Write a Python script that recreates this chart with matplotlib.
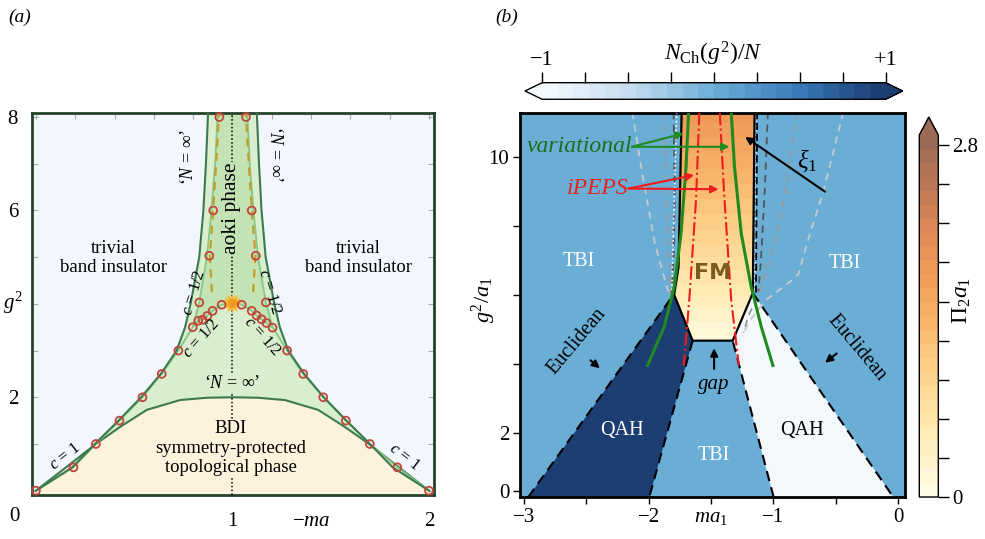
import numpy as np
import matplotlib as mpl
import matplotlib.pyplot as plt
from matplotlib.colors import LinearSegmentedColormap, Normalize
from matplotlib.patches import Polygon

plt.rcParams['font.family'] = ['Liberation Serif', 'DejaVu Serif']
plt.rcParams['mathtext.fontset'] = 'custom'
plt.rcParams['mathtext.rm'] = 'Liberation Serif'
plt.rcParams['mathtext.it'] = 'Liberation Serif:italic'
plt.rcParams['mathtext.bf'] = 'Liberation Serif:bold'
plt.rcParams['mathtext.fallback'] = 'stix'

# ---------------- panel (a) data ----------------
dome_x = [0.0, 0.15, 0.305, 0.43, 0.564, 0.733, 0.87, 1.0, 1.13, 1.267, 1.436, 1.57, 1.695, 1.85, 2.0]
dome_y = [0.0, 0.49, 1.0, 1.37, 1.73, 1.94, 1.99, 2.0, 1.99, 1.94, 1.73, 1.37, 1.0, 0.49, 0.0]

outer_y = [0.0, 0.5, 1.0, 1.5, 2.0, 2.5, 3.0, 3.5, 4.0, 5.0, 6.0, 7.0, 8.1]
outer_left = [0.0, 0.185, 0.30, 0.42, 0.535, 0.635, 0.716, 0.759, 0.787, 0.831, 0.852, 0.865, 0.876]
outer_right = [2.0, 1.815, 1.70, 1.58, 1.465, 1.365, 1.284, 1.241, 1.213, 1.169, 1.148, 1.135, 1.124]

inner_y = [0.0, 0.5, 1.0, 1.5, 2.0, 2.5, 3.0, 3.5, 4.03, 5.0, 6.0, 7.0, 8.1]
inner_left = [0.0, 0.191, 0.305, 0.425, 0.542, 0.640, 0.725, 0.798, 0.831, 0.87, 0.893, 0.912, 0.925]
inner_right = [2.0, 1.839, 1.699, 1.577, 1.462, 1.36, 1.278, 1.204, 1.170, 1.13, 1.107, 1.088, 1.075]

chain_x = [0.798, 0.826, 0.848, 0.872, 0.899, 0.945, 1.0, 1.047, 1.098, 1.123, 1.148, 1.173, 1.204]
chain_y = [3.5, 3.64, 3.66, 3.74, 3.85, 3.98, 4.02, 3.98, 3.85, 3.75, 3.67, 3.59, 3.49]

dash_y = [4.25, 5.03, 6.0, 8.1]
dash_left = [0.895, 0.885, 0.902, 0.933]
dash_right = [1.105, 1.117, 1.098, 1.067]

pts_x = [0.0, 0.191, 0.305, 0.425, 0.542, 0.640, 0.725, 0.798, 0.826, 0.848, 0.872, 0.899, 0.945,
         0.831, 0.882, 0.902, 0.933,
         2.0, 1.839, 1.699, 1.577, 1.462, 1.36, 1.278, 1.204, 1.173, 1.148, 1.123, 1.098, 1.047,
         1.170, 1.119, 1.098, 1.069]
pts_y = [0.0, 0.5, 1.0, 1.5, 2.0, 2.5, 3.0, 3.5, 3.64, 3.66, 3.74, 3.85, 3.98,
         4.03, 5.03, 6.0, 8.0,
         0.0, 0.5, 1.0, 1.5, 2.0, 2.5, 3.0, 3.49, 3.59, 3.67, 3.75, 3.85, 3.98,
         4.03, 5.03, 6.0, 8.0]
crit_pt = (1.0, 4.02)

# ---------------- panel (b) data ----------------
region_vals = {'TBI': 0.0, 'QAH_left': 1.0, 'QAH_right': -1.0}
qah_left_x = [-2.965, -1.80, -1.647, -1.995]
qah_left_y = [0.13, 6.0, 4.67, 0.13]
qah_right_x = [-0.998, -1.326, -1.165, -0.039]
qah_right_y = [0.13, 4.67, 6.05, 0.13]

fm_x = [-1.735, -1.76, -1.795, -1.647, -1.326, -1.165, -1.151]
fm_y = [11.3, 6.8, 6.0, 4.67, 4.67, 6.05, 11.3]
fm_lev_y = [4.6, 5.5, 6.5, 7.5, 8.5, 9.5, 10.5, 11.3]
fm_pi = [0.05, 0.3, 0.6, 0.9, 1.15, 1.4, 1.65, 1.85]

var_y = [11.3, 9.71, 7.78, 6.23, 5.07, 3.95]
var_left = [-1.679, -1.70, -1.74, -1.794, -1.875, -2.009]
var_right = [-1.338, -1.312, -1.258, -1.178, -1.097, -1.004]

peps_y = [11.3, 8.75, 5.85, 3.95]
peps_left = [-1.593, -1.62, -1.674, -1.718]
peps_right = [-1.43, -1.392, -1.338, -1.277]

gray_lines = [
    ([-2.13, -2.05, -1.95, -1.86, -1.82], [11.3, 9.5, 7.5, 6.3, 5.9], '#c9c9c9'),
    ([-1.875, -1.86, -1.835, -1.82], [11.3, 9.0, 7.0, 6.0], '#9a9a9a'),
    ([-1.80, -1.79, -1.80, -1.815], [11.3, 9.0, 7.0, 6.0], '#555555'),
    ([-0.44, -0.60, -0.73, -0.80, -0.86, -1.06, -1.2, -1.25], [11.3, 9.0, 7.5, 6.6, 6.4, 5.85, 5.2, 4.8], '#c9c9c9'),
    ([-0.816, -0.88, -0.95, -1.05, -1.10, -1.2, -1.24], [11.3, 9.5, 8.07, 6.8, 6.14, 5.4, 4.9], '#9a9a9a'),
    ([-1.044, -1.07, -1.10, -1.12], [11.3, 9.0, 7.0, 6.1], '#555555'),
]

blues = LinearSegmentedColormap.from_list(
    'bl', [(0.0, '#f3f8fd'), (0.25, '#c4dbef'), (0.5, '#6aaed6'), (0.75, '#3a7cbb'), (1.0, '#1c3e73')])
oranges = LinearSegmentedColormap.from_list(
    'or', [(0.0, '#fffbe3'), (0.17, '#feeab2'), (0.35, '#fcd088'), (0.49, '#f8b368'),
           (0.63, '#ee9a58'), (0.77, '#d98556'), (0.9, '#b57555'), (1.0, '#9a6a55')])
bnorm = Normalize(-1, 1)
onorm = Normalize(0, 2.88)

fig = plt.figure(figsize=(9.85, 5.39), dpi=100)

# ================= panel (a) =================
axa = fig.add_axes([0.0325, 0.0816, 0.408, 0.7087])
axa.set_xlim(-0.02, 2.025)
axa.set_ylim(-0.093, 8.086)
axa.set_facecolor('#f1f7fd')

band = Polygon(list(zip(outer_left, outer_y)) + list(zip(outer_right, outer_y))[::-1],
               closed=True, fc='#d8eecf', ec='none', zorder=1)
axa.add_patch(band)
aoki = Polygon(list(zip(inner_left[7:], inner_y[7:])) + list(zip(inner_right[7:], inner_y[7:]))[::-1]
               + list(zip(chain_x, chain_y))[::-1], closed=True, fc='#c3e3b5', ec='none', zorder=1.5)
axa.add_patch(aoki)
axa.fill_between(dome_x, 0 * np.array(dome_y) - 0.2, dome_y, color='#fdf2dc', lw=0, zorder=2)
axa.plot(dome_x, dome_y, color='#3d7a50', lw=1.5, zorder=3)
axa.plot(inner_left, inner_y, color='#86c884', lw=1.3, zorder=3)
axa.plot(inner_right, inner_y, color='#86c884', lw=1.3, zorder=3)
axa.plot(chain_x, chain_y, color='#86c884', lw=1.3, zorder=3)
axa.plot(outer_left, outer_y, color='#3d7a50', lw=1.5, zorder=3)
axa.plot(outer_right, outer_y, color='#3d7a50', lw=1.5, zorder=3)
axa.plot(dash_left, dash_y, color='#c99a22', lw=1.5, dashes=(4, 3), zorder=3)
axa.plot(dash_right, dash_y, color='#c99a22', lw=1.5, dashes=(4, 3), zorder=3)
axa.axvline(1.0, color='k', ls=(0, (1, 1.5)), lw=1.1, zorder=3.5)
axa.scatter([crit_pt[0]], [crit_pt[1]], marker=(12, 1, 0), s=150, color='#f5b630', zorder=4)
axa.scatter([crit_pt[0]], [crit_pt[1]], s=30, color='#f09a20', zorder=4.1)
axa.scatter(pts_x, pts_y, s=32, facecolor='none', edgecolor='#c0453a', lw=1.3, zorder=5, clip_on=False)

xt = np.arange(0, 2.01, 0.2)
xl = [''] * len(xt)
xl[5], xl[7], xl[10] = '1', '$-ma$', '2'
axa.set_xticks(xt)
axa.set_xticklabels(xl)
axa.set_yticks(range(0, 9))
axa.set_yticklabels(['', '', '2', '', '', '', '6', '', '8'])
axa.tick_params(direction='in', length=4, color='#aaaaaa', labelsize=15, top=True, right=True)
axa.tick_params(axis='x', pad=12)
axa.tick_params(axis='y', pad=10)
for s in axa.spines.values():
    s.set_color('#24432a')
    s.set_linewidth(2)
axa.text(-0.11, -0.55, '0', fontsize=15, ha='center', va='center', clip_on=False)
fig.text(3 / 985, 1 - 303 / 539, r'$g^2$', fontsize=15, ha='left', va='center')

tk = dict(fontsize=13.5, ha='center', va='center', linespacing=1.15, zorder=6)
axa.text(0.393, 4.98, 'trivial\nband insulator', **tk)
axa.text(1.639, 4.98, 'trivial\nband insulator', **tk)
axa.text(0.99, 0.91, 'BDI\nsymmetry-protected\ntopological phase', fontsize=13.5, ha='center', va='center',
         linespacing=1.2, zorder=6, bbox=dict(fc='#fdf2dc', ec='none', pad=0.5))
axa.text(0.996, 6.05, 'aoki phase', fontsize=15.5, rotation=90, ha='center', va='center', zorder=6,
         bbox=dict(fc='#c3e3b5', ec='none', pad=0.5))
axa.text(1.0, 2.3, r'‘$N$ = ∞’', fontsize=13, ha='center', va='center', zorder=6,
         bbox=dict(fc='#d8eecf', ec='none', pad=0.5))
axa.text(0.774, 7.15, r'‘$N$ = ∞’', fontsize=13, rotation=90, ha='center', va='center', zorder=6)
axa.text(1.216, 7.2, r'‘$N$ = ∞’', fontsize=13, rotation=-90, ha='center', va='center', zorder=6)
ck = dict(fontsize=12, ha='center', va='center', zorder=6)
axa.text(0.149, 0.73, r'$c$ = 1', rotation=38, **ck)
axa.text(1.876, 0.73, r'$c$ = 1', rotation=-38, **ck)
axa.text(0.805, 4.25, r'$c$ = 1/2', rotation=73, **ck)
axa.text(0.84, 3.27, r'$c$ = 1/2', rotation=48, **ck)
axa.text(1.19, 4.25, r'$c$ = 1/2', rotation=-73, **ck)
axa.text(1.15, 3.3, r'$c$ = 1/2', rotation=-48, **ck)

# ================= panel (b) =================
axb = fig.add_axes([0.5284, 0.0774, 0.3904, 0.7136])
axb.set_xlim(-3.026, 0.054)
axb.set_ylim(0.13, 11.28)
axb.set_facecolor(blues(bnorm(region_vals['TBI'])))

axb.add_patch(Polygon(list(zip(qah_left_x, qah_left_y)), closed=True,
                      fc=blues(bnorm(region_vals['QAH_left'])), ec='none', zorder=1))
axb.add_patch(Polygon(list(zip(qah_right_x, qah_right_y)), closed=True,
                      fc=blues(bnorm(region_vals['QAH_right'])), ec='none', zorder=1))

fm_patch = Polygon(list(zip(fm_x, fm_y)), closed=True, fc='none', ec='k', lw=1.6, zorder=4)
axb.add_patch(fm_patch)
gx, gy = np.meshgrid([-1.9, -1.0], fm_lev_y)
gz = np.column_stack([fm_pi, fm_pi])
cs = axb.contourf(gx, gy, gz, levels=np.linspace(0, 2.88, 27), cmap=oranges, norm=onorm, zorder=2)
cs.set_clip_path(fm_patch)

for xs, ys, c in gray_lines:
    axb.plot(xs, ys, color=c, lw=1.3, dashes=(4, 3), zorder=2.5)
axb.plot([-1.775, -1.815], [11.3, 6.0], color='white', lw=1.2, ls=':', zorder=2.6)
axb.plot([-1.14, -1.15], [11.3, 6.05], color='white', lw=1.2, ls=':', zorder=2.6)
axb.plot([-1.13, -1.14], [11.3, 6.05], color='k', lw=1.3, dashes=(4, 2), zorder=2.6)

dk = dict(color='k', lw=1.5, dashes=(5, 3), zorder=3)
axb.plot(qah_left_x[:2], qah_left_y[:2], **dk)
axb.plot(qah_left_x[2:], qah_left_y[2:], **dk)
axb.plot(qah_right_x[:2], qah_right_y[:2], **dk)
axb.plot(qah_right_x[2:], qah_right_y[2:], **dk)

axb.plot(var_left, var_y, color='#1f8a1f', lw=2.2, zorder=5)
axb.plot(var_right, var_y, color='#1f8a1f', lw=2.2, zorder=5)
axb.plot(peps_left, peps_y, color='#ee1c1c', lw=1.5, ls='-.', zorder=5)
axb.plot(peps_right, peps_y, color='#ee1c1c', lw=1.5, ls='-.', zorder=5)

axb.text(-2.133, 10.29, 'variational', color='#1a701a', fontsize=17, style='italic',
         ha='right', va='center', zorder=7)
axb.text(-2.16, 9.08, 'iPEPS', color='#e8211c', fontsize=17, style='italic',
         ha='right', va='center', zorder=7)
ga = dict(arrowstyle='-|>', color='#1f8a1f', lw=1.5, mutation_scale=11, shrinkA=0, shrinkB=0)
axb.annotate('', xy=(-1.72, 10.68), xytext=(-2.133, 10.29), arrowprops=ga, zorder=7)
axb.annotate('', xy=(-1.352, 10.29), xytext=(-2.133, 10.29), arrowprops=ga, zorder=7)
ra = dict(arrowstyle='-|>', color='#ee1c1c', lw=1.5, mutation_scale=11, shrinkA=0, shrinkB=0)
axb.annotate('', xy=(-1.635, 9.47), xytext=(-2.16, 9.08), arrowprops=ra, zorder=7)
axb.annotate('', xy=(-1.44, 9.06), xytext=(-2.16, 9.08), arrowprops=ra, zorder=7)
ka = dict(arrowstyle='-|>', color='k', lw=1.5, mutation_scale=11, shrinkA=0, shrinkB=0)
axb.annotate('', xy=(-1.227, 10.58), xytext=(-0.587, 8.99), arrowprops=ka, zorder=7)
axb.text(-0.733, 9.9, r'$\xi_1$', fontsize=18, ha='center', va='center', zorder=7)
axb.annotate('', xy=(-2.39, 3.87), xytext=(-2.465, 4.1), arrowprops=ka, zorder=7)
axb.annotate('', xy=(-0.587, 4.03), xytext=(-0.493, 4.3), arrowprops=ka, zorder=7)
axb.annotate('', xy=(-1.475, 4.45), xytext=(-1.475, 3.85), arrowprops=ka, zorder=7)
axb.text(-1.475, 3.4, 'gap', fontsize=15, style='italic', ha='center', va='center', zorder=7)

axb.text(-1.485, 6.64, 'FM', fontsize=16, fontweight='bold', family='DejaVu Sans', color='#7b5a1e',
         ha='center', va='center', zorder=7)
lk = dict(fontsize=14.5, ha='center', va='center', zorder=7)
axb.text(-2.56, 6.96, 'TBI', color='white', **lk)
axb.text(-0.426, 6.91, 'TBI', color='white', **lk)
axb.text(-1.475, 1.35, 'TBI', color='white', **lk)
axb.text(-2.213, 2.08, 'QAH', color='white', **lk)
axb.text(-0.773, 2.08, 'QAH', color='black', **lk)
axb.text(-2.573, 4.64, 'Euclidean', rotation=50, **lk)
axb.text(-0.333, 4.45, 'Euclidean', rotation=-50, **lk)

axb.set_xticks(np.arange(-3, 0.01, 0.5))
axb.set_xticklabels(['−3', '', '−2', '$ma_1$', '−1', '', '0'])
axb.set_yticks([0.3, 2, 4, 6, 8, 10])
axb.set_yticklabels(['0', '2', '', '', '', '10'])
axb.tick_params(direction='out', length=5, width=1, labelsize=15, pad=3)
for s in axb.spines.values():
    s.set_linewidth(2)
axb.text(-0.095, 0.513, r'$g^2/a_1$', transform=axb.transAxes, rotation=90, fontsize=16,
         ha='center', va='center')

# ================= colourbars =================
cax1 = fig.add_axes([0.533, 0.8158, 0.3835, 0.0308])
cb1 = fig.colorbar(mpl.cm.ScalarMappable(norm=bnorm, cmap=blues.resampled(22)), cax=cax1,
                   orientation='horizontal', extend='both', ticks=np.linspace(-1, 1, 9))
cax1.xaxis.set_ticks_position('top')
cb1.set_ticklabels(['−1', '', '', '', '', '', '', '', '+1'])
cax1.tick_params(direction='out', length=8, width=1, labelsize=16, pad=1)
cb1.outline.set_linewidth(1)
fig.text(713 / 985, 1 - 54 / 539, r'$N_{\mathrm{Ch}}(g^2)/N$', fontsize=17, ha='center', va='center')

cax2 = fig.add_axes([0.9333, 0.0779, 0.0193, 0.705])
cb2 = fig.colorbar(mpl.cm.ScalarMappable(norm=onorm, cmap=oranges.resampled(26)), cax=cax2,
                   extend='max', ticks=np.linspace(0, 2.8, 10))
cb2.set_ticklabels(['0'] + [''] * 8 + ['2.8'])
cax2.tick_params(direction='out', length=8, width=1, labelsize=15, pad=2)
cb2.outline.set_linewidth(1)
fig.text(962 / 985, 1 - 300 / 539, r'$\mathit{Π}_2a_1$', fontsize=17, rotation=90,
         ha='center', va='center')

fig.text(20 / 985, 1 - 17 / 539, '(a)', fontsize=14, style='italic', ha='center', va='center')
fig.text(507 / 985, 1 - 17 / 539, '(b)', fontsize=14, style='italic', ha='center', va='center')

fig.savefig('out.png', dpi=100)
